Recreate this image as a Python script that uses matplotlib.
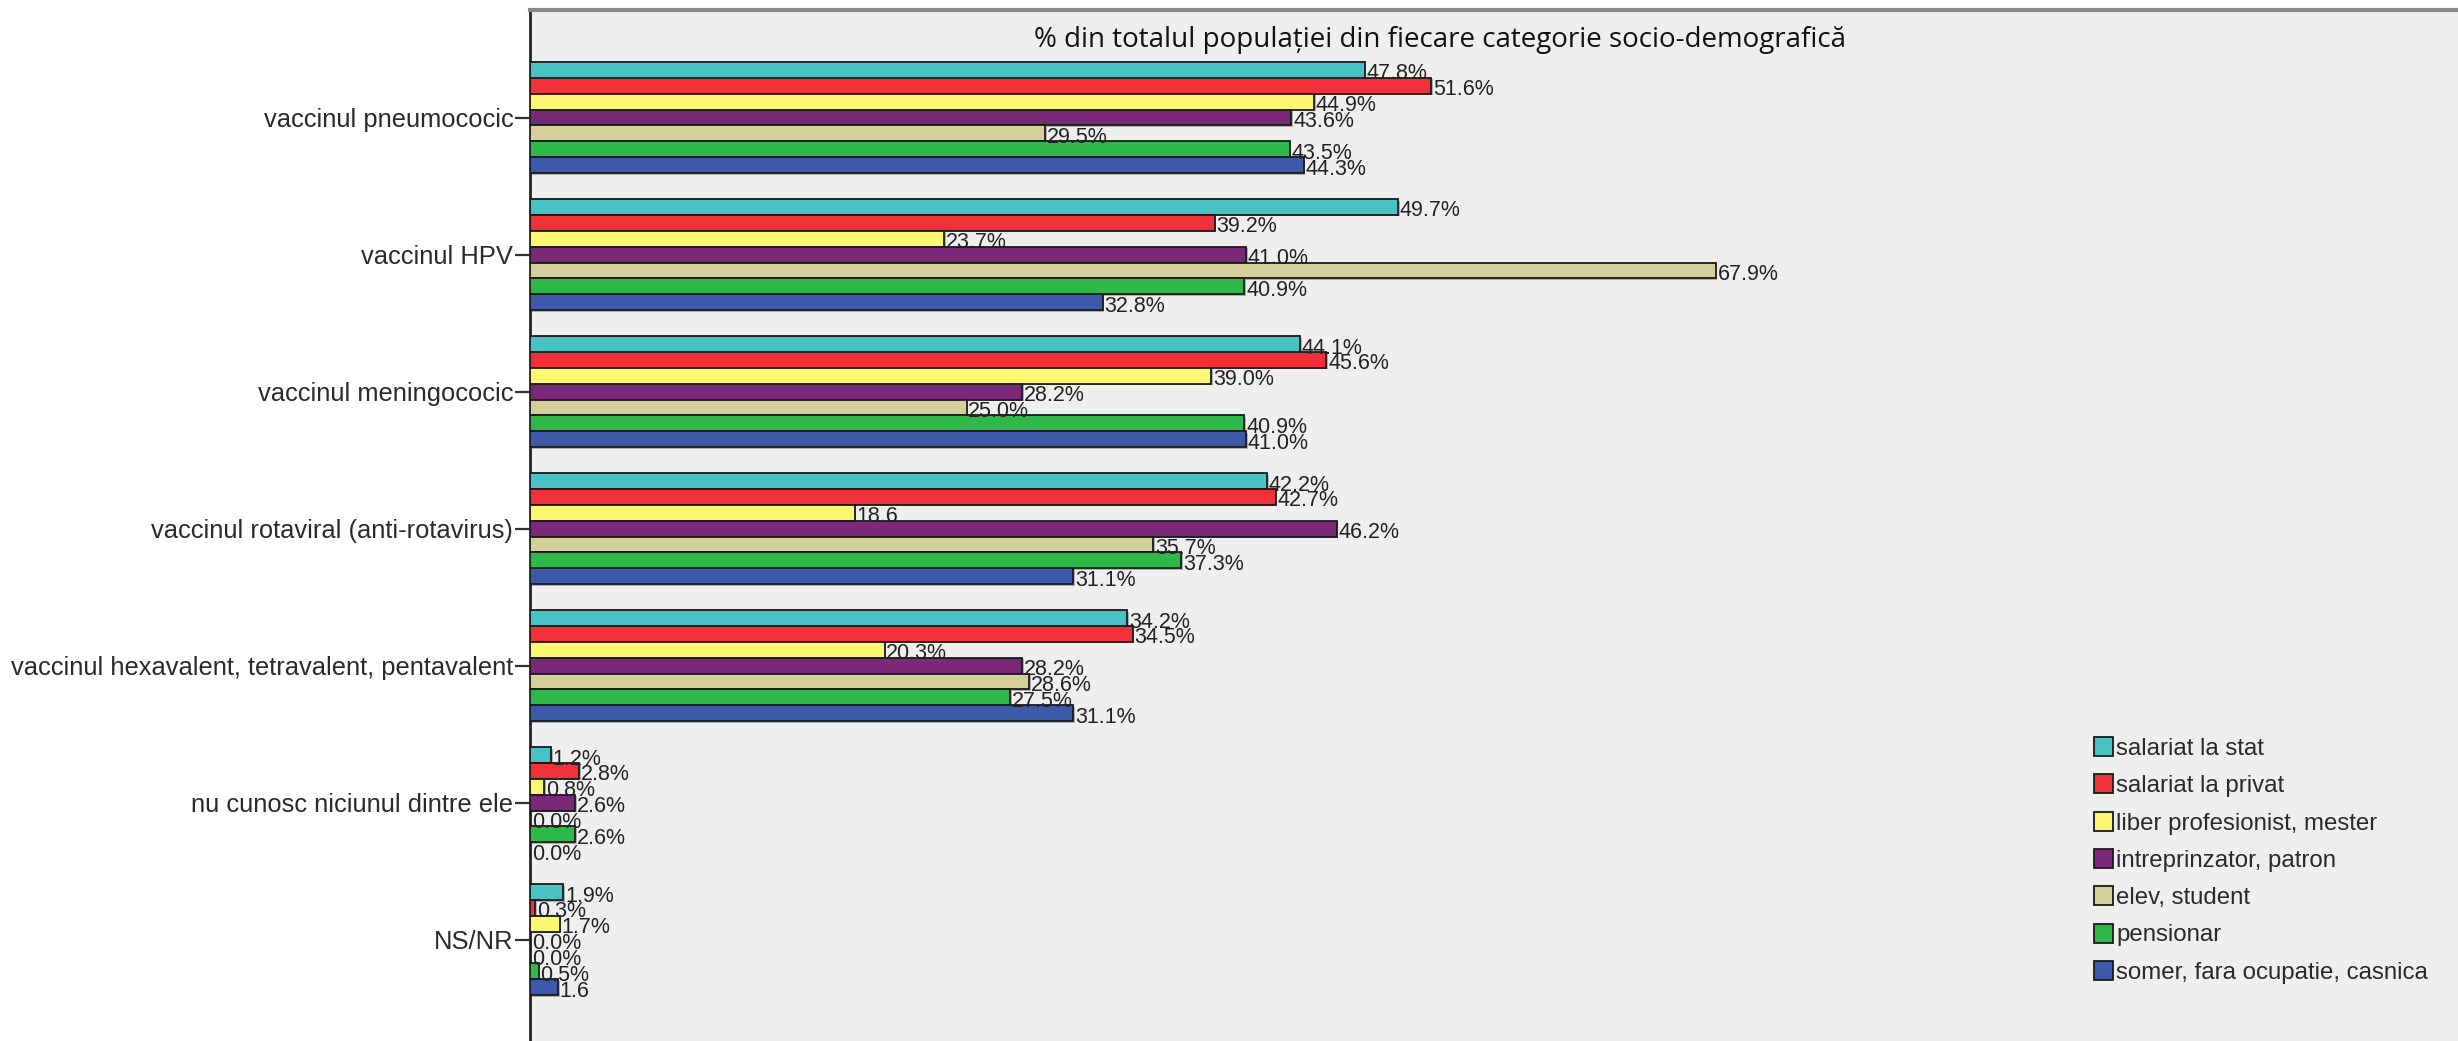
import matplotlib
matplotlib.use("Agg")
import matplotlib.pyplot as plt
import matplotlib.patheffects as pe
from matplotlib import font_manager
from matplotlib.patches import Patch

# ---------------- data ----------------
categories = [
    "vaccinul pneumococic",
    "vaccinul HPV",
    "vaccinul meningococic",
    "vaccinul rotaviral (anti-rotavirus)",
    "vaccinul hexavalent, tetravalent, pentavalent",
    "nu cunosc niciunul dintre ele",
    "NS/NR",
]
series_names = [
    "salariat la stat",
    "salariat la privat",
    "liber profesionist, mester",
    "intreprinzator, patron",
    "elev, student",
    "pensionar",
    "somer, fara ocupatie, casnica",
]
salariat_stat = [47.8, 49.7, 44.1, 42.2, 34.2, 1.2, 1.9]
salariat_privat = [51.6, 39.2, 45.6, 42.7, 34.5, 2.8, 0.3]
liber_profesionist = [44.9, 23.7, 39.0, 18.6, 20.3, 0.8, 1.7]
intreprinzator = [43.6, 41.0, 28.2, 46.2, 28.2, 2.6, 0.0]
elev_student = [29.5, 67.9, 25.0, 35.7, 28.6, 0.0, 0.0]
pensionar = [43.5, 40.9, 40.9, 37.3, 27.5, 2.6, 0.5]
somer = [44.3, 32.8, 41.0, 31.1, 31.1, 0.0, 1.6]
series_values = [salariat_stat, salariat_privat, liber_profesionist,
                 intreprinzator, elev_student, pensionar, somer]
# labels that appear without the % sign in the original: (category, series)
labels_without_percent = [(3, 2), (6, 6)]

title = "% din totalul populației din fiecare categorie socio-demografică"

colors = ["#49C2C6", "#F03139", "#FBF771", "#7C2879",
          "#D5CF99", "#2EB84A", "#3C59AA"]

# ---------------- fonts ----------------
available = {f.name for f in font_manager.fontManager.ttflist}
label_font = "Liberation Sans" if "Liberation Sans" in available else "DejaVu Sans"
value_size = 15.5
title_font = "Open Sans" if "Open Sans" in available else "DejaVu Sans"

# ---------------- figure ----------------
W, H = 2458, 1041
fig = plt.figure(figsize=(W / 100, H / 100), dpi=100)
fig.patch.set_facecolor("white")

ax_left = 530 / W
ax_top = 10 / H
ax = fig.add_axes([ax_left, 0.0, 1 - ax_left, 1 - ax_top])
ax.set_facecolor("#EFEFEF")

n_series = len(series_names)
bar_h = 0.116
shadow = [pe.SimplePatchShadow(offset=(1.2, -1.2), shadow_rgbFace="#7a7a7a", alpha=0.55),
          pe.Normal()]

for j, (vals, col) in enumerate(zip(series_values, colors)):
    ys = [i + (j - (n_series - 1) / 2) * bar_h for i in range(len(categories))]
    bars = ax.barh(ys, vals, height=bar_h, color=col, edgecolor="#1a1a1a",
                   linewidth=1.3, zorder=3)
    for b in bars:
        b.set_path_effects(shadow)
    for i, (y, v) in enumerate(zip(ys, vals)):
        txt = f"{v:.1f}" if (i, j) in labels_without_percent else f"{v:.1f}%"
        ax.text(v + 0.1, y + 0.03, txt, ha="left", va="center",
                fontsize=value_size, family=label_font, color="#222222",
                zorder=5)

ax.set_xlim(0, 110.4)
ax.set_ylim(6.74, -0.785)
ax.set_yticks(range(len(categories)))
ax.set_yticklabels(categories, fontsize=18.4, family=label_font, color="#2a2a2a")
ax.tick_params(axis="y", length=11, width=1.6, color="#333333", pad=1)
ax.set_xticks([])

for side in ("right", "bottom"):
    ax.spines[side].set_visible(False)
ax.spines["left"].set_color("#222222")
ax.spines["left"].set_linewidth(2.0)
ax.spines["top"].set_color("#8a8a8a")
ax.spines["top"].set_linewidth(3.0)

# title inside the plot area
fig.text(1440 / W, 1 - 40 / H, title, ha="center", va="center",
         fontsize=20, family=title_font, color="#111111")

# legend
handles = [Patch(facecolor=c, edgecolor="#1a1a1a", linewidth=1.3) for c in colors]
leg = fig.legend(handles, series_names, loc="upper left",
                 bbox_to_anchor=(2094 / W, 1 - 737 / H),
                 frameon=False, prop={"family": label_font, "size": 17.3},
                 handlelength=0.8, handleheight=0.85, handletextpad=0.12,
                 labelspacing=0.6, borderpad=0, borderaxespad=0)
for t in leg.get_texts():
    t.set_color("#2a2a2a")

fig.savefig("out.png", dpi=100, facecolor="white")
